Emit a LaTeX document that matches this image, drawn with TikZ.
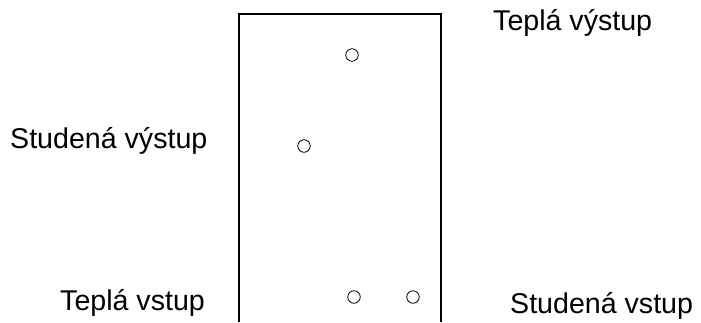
\documentclass[tikz,border=0pt]{standalone}
\usepackage{fontspec}
\setmainfont{Liberation Sans}
\begin{document}
\begin{tikzpicture}[x=1pt,y=-1pt,
  lbl/.style={font=\fontsize{28.6}{32}\selectfont, inner sep=0pt, anchor=west},
  port/.style={circle, draw, line width=0.8pt, minimum size=12.5pt, inner sep=0pt}]
\useasboundingbox (0,0) rectangle (701,322);
\fill[white] (0,0) rectangle (701,322);
\coordinate (bl) at (239,322);
\coordinate (tl) at (239,14);
\coordinate (tr) at (441,14);
\coordinate (br) at (441,322);
\draw[line width=1.4pt, line join=miter] (bl) -- (tl) -- (tr) -- (br);
\node[port] (p1) at (352,55) {};
\node[port] (p2) at (304,146) {};
\node[port] (p3) at (354,297) {};
\node[port] (p4) at (413,297) {};
\node[lbl] (t1) at (493,23) {Teplá výstup};
\node[lbl] (t2) at (10,141) {Studená výstup};
\node[lbl] (t3) at (60,303) {Teplá vstup};
\node[lbl] (t4) at (510,306) {Studená vstup};
\end{tikzpicture}
\end{document}
